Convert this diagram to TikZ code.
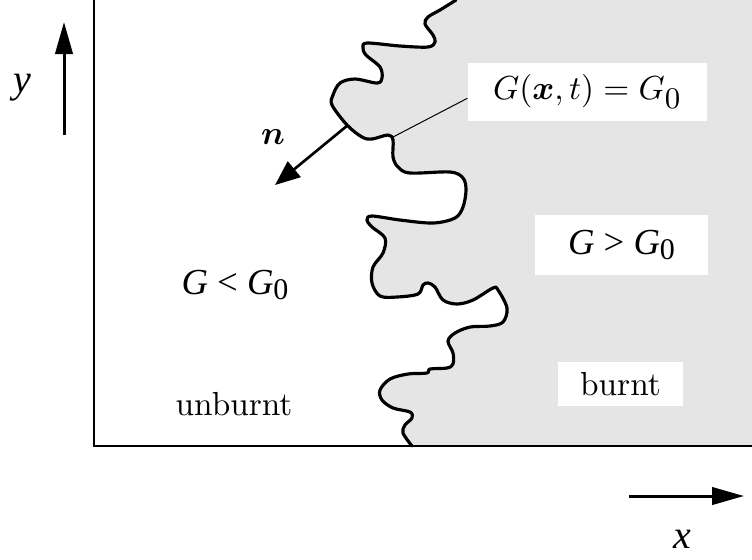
\documentclass[tikz,border=0pt]{standalone}
\usepackage{amsmath}
\usepackage{bm}
\usepackage{fontspec}
\newfontfamily\tms{Liberation Serif}
\usetikzlibrary{arrows.meta}
\newcommand\bigsub[1]{\raisebox{-1.6pt}{\fontsize{9}{10}\selectfont #1}}
\begin{document}
\begin{tikzpicture}[x=0.3pt,y=-0.3pt,
  front/.style={line width=0.95pt, line join=round, line cap=round},
  axisline/.style={line width=0.4pt},
  leader/.style={line width=0.3pt},
  bigarrow/.style={line width=0.9pt, -{Triangle[length=9.6pt,width=5.2pt]}},
  normarrow/.style={line width=0.8pt, -{Triangle[length=7.5pt,width=6pt]}},
  labelbox/.style={fill=white, inner sep=0pt, font=\fontsize{10}{12}\selectfont},
  cmtext/.style={inner sep=0pt, font=\fontsize{10}{12}\selectfont},
  tmtext/.style={inner sep=0pt, font=\fontsize{11}{13}\selectfont\tms},
  axlabel/.style={inner sep=0pt, font=\fontsize{12}{14}\selectfont\tms\itshape}]
\useasboundingbox (0,0) rectangle (752,559);
% burnt region
\fill[black!10] plot[smooth,tension=0.55] coordinates {
(456,0) (440,10) (428,17) (425,24) (433,35) (435,42) (428,47) (400,46) (367,43) (363,48) (366,55) (380,67) (382,78) (377,83) (355,79) (340,83) (333,95) (332,105) (347,125) (362,137) (372,139) (388,135) (393,140) (393,157) (398,167) (410,173) (450,172) (463,178) (466,190) (463,207) (455,218) (433,223) (400,220) (372,216) (367,220) (372,227) (385,238) (383,253) (373,267) (372,283) (380,296) (397,297) (418,294) (423,285) (428,283) (435,287) (443,300) (457,304) (473,300) (493,288) (498,290) (507,308) (503,322) (490,326) (470,327) (455,333) (448,341) (453,353) (453,364) (447,368) (430,369) (427,373) (408,374) (390,379) (380,390) (382,400) (393,408) (410,412) (412,418) (405,425) (403,433) (412,446)}
 -- (752,446) -- (752,0) -- cycle;
% axes frame
\coordinate (tl) at (94,0);
\coordinate (bl) at (94,446);
\coordinate (br) at (752,446);
\draw[axisline] (tl) -- (bl) -- (br);
% flame front
\draw[front] plot[smooth,tension=0.55] coordinates {
(456,0) (440,10) (428,17) (425,24) (433,35) (435,42) (428,47) (400,46) (367,43) (363,48) (366,55) (380,67) (382,78) (377,83) (355,79) (340,83) (333,95) (332,105) (347,125) (362,137) (372,139) (388,135) (393,140) (393,157) (398,167) (410,173) (450,172) (463,178) (466,190) (463,207) (455,218) (433,223) (400,220) (372,216) (367,220) (372,227) (385,238) (383,253) (373,267) (372,283) (380,296) (397,297) (418,294) (423,285) (428,283) (435,287) (443,300) (457,304) (473,300) (493,288) (498,290) (507,308) (503,322) (490,326) (470,327) (455,333) (448,341) (453,353) (453,364) (447,368) (430,369) (427,373) (408,374) (390,379) (380,390) (382,400) (393,408) (410,412) (412,418) (405,425) (403,433) (412,446)};
% labels with boxes
\node[labelbox, minimum width=71.7pt, minimum height=17.4pt] (gbox) at (587.5,92) {$G(\bm{x},t)=G_{\mbox{\fontsize{9}{10}\selectfont 0}}$};
\node[labelbox, minimum width=51.9pt, minimum height=18pt, font=\fontsize{11}{13}\selectfont\tms] (gtbox) at (621.5,245)
  {\itshape G \upshape> \itshape G\bigsub{\upshape 0}};
\node[labelbox, minimum width=37.5pt, minimum height=13.2pt] (burnt) at (620.5,384) {burnt};
\node[tmtext] (gless) at (235,285)
  {\itshape G \upshape< \itshape G\bigsub{\upshape 0}};
\node[cmtext] (unburnt) at (234,404) {unburnt};
% leader line
\coordinate (attach) at (393,137);
\draw[leader] (attach) -- (gbox.183);
% normal vector
\coordinate (nbase) at (348,125);
\coordinate (ntip) at (275,185);
\draw[normarrow] (nbase) -- (ntip);
\node[cmtext] (nlab) at (273,137) {$\bm{n}$};
% coordinate arrows
\coordinate (ybot) at (64,135);
\coordinate (ytop) at (64,22);
\draw[bigarrow] (ybot) -- (ytop);
\node[axlabel] (ylab) at (22,88) {y};
\coordinate (xleft) at (629,496);
\coordinate (xright) at (744,496);
\draw[bigarrow] (xleft) -- (xright);
\node[axlabel] (xlab) at (682,539) {x};
\end{tikzpicture}
\end{document}
